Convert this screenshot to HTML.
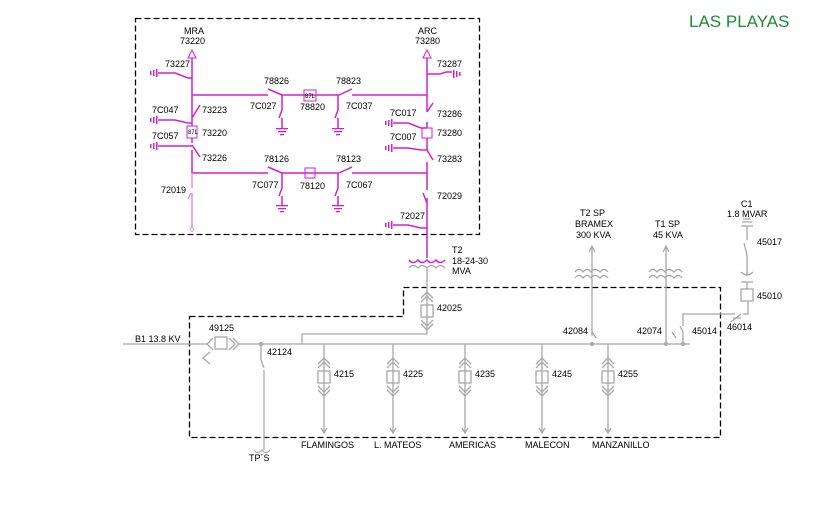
<!DOCTYPE html>
<html><head><meta charset="utf-8"><style>
html,body{margin:0;padding:0;background:#fff;}
svg{display:block;font-family:"Liberation Sans",Arial,sans-serif;}
</style></head><body>
<svg width="833" height="525" viewBox="0 0 833 525" xmlns="http://www.w3.org/2000/svg">
<text x="689" y="27" font-size="17" fill="#1e8a3a">LAS PLAYAS</text>

<!-- dashed boxes -->
<rect x="135.5" y="18.5" width="344" height="216" fill="none" stroke="#000" stroke-width="1.3" stroke-dasharray="6,3"/>
<path d="M189.5 316.5 H403.5 V287.5 H720.5 V437.5 H189.5 Z" fill="none" stroke="#000" stroke-width="1.3" stroke-dasharray="6,3"/>

<g stroke="#d020d0" stroke-width="1.5" fill="none">
  <!-- left vertical -->
  <path d="M192 58 V118 M192 118 V126 M192 138 V143 M192 150 V173"/>
  <path d="M188 58 L192 50 L196 58 Z" stroke-width="1"/>
  <!-- right vertical -->
  <path d="M427 58 V112 M427 122 V128 M427 138 V150 M427 162 V190 M427 198 V258"/>
  <path d="M423 58 L427 50 L431 58 Z" stroke-width="1"/>
  <!-- bus 1 -->
  <path d="M192 95 H268 M282 95 H339 M352 95 H427"/>
  <path d="M268 89 L282 95 M339 95 L352 89"/>
  <rect x="304" y="90" width="12" height="11" stroke-width="1"/>
  <path d="M282 95 V110 L279 118 M282 118 V128 M338 95 V110 L335 118 M338 118 V128"/>
  <!-- bus 2 -->
  <path d="M192 173 H268 M282 173 H339 M352 173 H427"/>
  <path d="M268 167 L282 173 M339 173 L352 167"/>
  <rect x="305" y="168" width="10" height="10" stroke-width="1"/>
  <path d="M282 173 V188 L279 196 M282 196 V205 M338 173 V188 L335 196 M338 196 V205"/>
  <!-- left grounds -->
  <path d="M158 73 H175 L188 78 H192"/>
  <path d="M158 120 H175 L188 123 H192 M192 118 L200 105"/>
  <path d="M158 146 H175 L188 146 H192 M192 145 L200 157"/>
  <rect x="187" y="126" width="10" height="12" stroke-width="1"/>
  <!-- right grounds -->
  <path d="M427 74 H440 L446 72 H452"/>
  <path d="M393 123 H408 L421 128 H427 M427 112 L433 103"/>
  <path d="M393 148 H408 L421 150 H427 M427 150 L433 160"/>
  <rect x="422" y="128" width="10" height="10" stroke-width="1"/>
  <path d="M423 193 L427 203"/>
  <path d="M393 225 H408 L421 228 H427"/>
  <!-- T2 primary -->
  <path d="M409 260 q4 5 9 0 q4 5 9 0 q4 5 9 0 q4 5 9 0"/>
</g>
<g stroke="#e590e5" stroke-width="1.5" fill="none">
  <path d="M192 173 V188 M191 193 L188 199 M192 193 V228"/>
  <circle cx="192" cy="229.5" r="1.8" stroke-width="1"/>
</g>
<g fill="#d020d0">
  <rect x="156" y="69" width="1.5" height="8"/><rect x="153" y="70" width="1.5" height="6"/><rect x="150" y="71" width="1.5" height="4"/>
  <rect x="156" y="116" width="1.5" height="8"/><rect x="153" y="117" width="1.5" height="6"/><rect x="150" y="118" width="1.5" height="4"/>
  <rect x="156" y="142" width="1.5" height="8"/><rect x="153" y="143" width="1.5" height="6"/><rect x="150" y="144" width="1.5" height="4"/>
  <rect x="453" y="70" width="1.5" height="8"/><rect x="456" y="71" width="1.5" height="6"/><rect x="459" y="72" width="1.5" height="4"/>
  <rect x="391" y="119" width="1.5" height="8"/><rect x="388" y="120" width="1.5" height="6"/><rect x="385" y="121" width="1.5" height="4"/>
  <rect x="391" y="144" width="1.5" height="8"/><rect x="388" y="145" width="1.5" height="6"/><rect x="385" y="146" width="1.5" height="4"/>
  <rect x="391" y="221" width="1.5" height="8"/><rect x="388" y="222" width="1.5" height="6"/><rect x="385" y="223" width="1.5" height="4"/>
  <rect x="276" y="128" width="12" height="1.3"/><rect x="278" y="131" width="8" height="1.3"/><rect x="280" y="134" width="4" height="1.3"/>
  <rect x="332" y="128" width="12" height="1.3"/><rect x="334" y="131" width="8" height="1.3"/><rect x="336" y="134" width="4" height="1.3"/>
  <rect x="276" y="205" width="12" height="1.3"/><rect x="278" y="208" width="8" height="1.3"/><rect x="280" y="211" width="4" height="1.3"/>
  <rect x="332" y="205" width="12" height="1.3"/><rect x="334" y="208" width="8" height="1.3"/><rect x="336" y="211" width="4" height="1.3"/>
</g>
<g font-size="9" fill="#000">
  <text x="184" y="34">MRA</text><text x="180" y="44">73220</text>
  <text x="418" y="34">ARC</text><text x="415" y="44">73280</text>
  <text x="165" y="67">73227</text><text x="437" y="67">73287</text>
  <text x="264" y="84">78826</text><text x="336" y="84">78823</text>
  <text x="250" y="109">7C027</text><text x="300" y="110">78820</text><text x="346" y="109">7C037</text>
  <text x="152" y="113">7C047</text><text x="202" y="113">73223</text>
  <text x="152" y="139">7C057</text><text x="202" y="136">73220</text>
  <text x="202" y="161">73226</text>
  <text x="390" y="116">7C017</text><text x="437" y="117">73286</text>
  <text x="390" y="140">7C007</text><text x="437" y="136">73280</text>
  <text x="437" y="162">73283</text>
  <text x="264" y="162">78126</text><text x="336" y="162">78123</text>
  <text x="252" y="188">7C077</text><text x="300" y="189">78120</text><text x="346" y="188">7C067</text>
  <text x="161" y="193">72019</text><text x="437" y="199">72029</text>
  <text x="400" y="219">72027</text>
  <text x="452" y="253">T2</text><text x="452" y="264">18-24-30</text><text x="452" y="274">MVA</text>
</g>
<text x="188" y="134" font-size="6">87L</text>
<text x="305" y="98" font-size="6">87L</text>

<!-- lower gray -->
<g stroke="#a8a8a8" stroke-width="1.3" fill="none">
  <path d="M409 268 q4 -5 9 0 q4 -5 9 0 q4 -5 9 0 q4 -5 9 0"/>
  <path d="M427 268 V334 H302 V344"/>
  <rect x="421" y="305" width="12" height="12"/>
  <path d="M421 298 L427 292 L433 298 M421 302 L427 296 L433 302 M421 320 L427 326 L433 320 M421 324 L427 330 L433 324"/>
  <path d="M123 344 H208 M238 344 H690"/>
  <rect x="215" y="337" width="12" height="12"/>
  <path d="M213 338 L207 344 L213 350 M229 338 L235 344 L229 350 M233 338 L239 344 L233 350 M210 352 L203 358 L210 364"/>
  <path d="M261 344 V360 L264 368 M264 370 V450"/>
  <circle cx="261" cy="344" r="1.5" fill="#a8a8a8"/>
  <path d="M254 450 q4 5 8 0 q4 5 8 0"/>
  <!-- feeders -->
  <g id="f">
    <path d="M324 344 V432 M321 428 L324 433 L327 428"/>
    <rect x="318" y="371" width="12" height="12"/>
    <path d="M318 364 L324 358 L330 364 M318 368 L324 362 L330 368 M318 386 L324 392 L330 386 M318 390 L324 396 L330 390"/>
  </g>
  <use href="#f" x="69"/><use href="#f" x="141"/><use href="#f" x="218"/><use href="#f" x="284"/>
  <!-- transformers -->
  <path d="M592 248 V336 M589 252 L592 246 L595 252"/>
  <path d="M575 272 q4 -5 8 0 q4 -5 8 0 q4 -5 9 0 q4 -5 8 0 M575 278 q4 -5 8 0 q4 -5 8 0 q4 -5 9 0 q4 -5 8 0"/>
  <path d="M666 248 V344 M663 252 L666 246 L669 252"/>
  <path d="M649 272 q4 -5 8 0 q4 -5 8 0 q4 -5 9 0 q4 -5 8 0 M649 278 q4 -5 8 0 q4 -5 8 0 q4 -5 9 0 q4 -5 8 0"/>
  <path d="M592 332 L596 338 M672 332 L676 338 M683 344 V332 L680 326 M683 326 V314 H735 M743 314 H748 V301"/>
  <path d="M731 322 L741 314 M733 318 H741"/>
  <rect x="741" y="289" width="12" height="12"/>
  <path d="M747 289 V282 M741 282 H753 M741 272 q6 6 12 0 M747 275 V255 L744 243 M747 240 V226 M741 226 H753 M742 222 H752 M743 219 H751"/>
</g>
<g fill="#a8a8a8"><circle cx="592" cy="344" r="2"/><circle cx="666" cy="344" r="2"/><circle cx="683" cy="344" r="2"/></g>
<g font-size="9" fill="#000">
  <text x="135" y="342">B1 13.8 KV</text>
  <text x="209" y="331">49125</text>
  <text x="267" y="355">42124</text>
  <text x="437" y="311">42025</text>
  <text x="334" y="377">4215</text><text x="403" y="377">4225</text><text x="475" y="377">4235</text>
  <text x="552" y="377">4245</text><text x="618" y="377">4255</text>
  <text x="301" y="448">FLAMINGOS</text><text x="374" y="448">L. MATEOS</text>
  <text x="449" y="448">AMERICAS</text><text x="525" y="448">MALECON</text><text x="592" y="448">MANZANILLO</text>
  <text x="249" y="461">TP´S</text>
  <text x="580" y="216">T2 SP</text><text x="575" y="227">BRAMEX</text><text x="576" y="238">300 KVA</text>
  <text x="655" y="227">T1 SP</text><text x="653" y="238">45 KVA</text>
  <text x="741" y="207">C1</text><text x="727" y="217">1.8 MVAR</text>
  <text x="757" y="245">45017</text><text x="757" y="299">45010</text>
  <text x="563" y="334">42084</text><text x="637" y="334">42074</text><text x="692" y="334">45014</text>
  <text x="727" y="330">46014</text>
</g>
</svg>
</body></html>
